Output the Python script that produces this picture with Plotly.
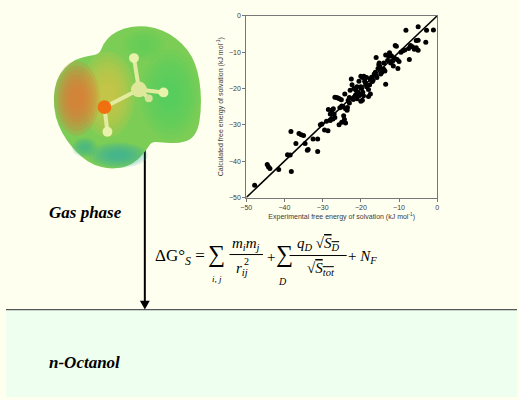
import plotly.graph_objects as go

W, H = 519, 400

# experimental vs calculated free energy of solvation (kJ/mol)
exp_dg = [-47.8, -44.5, -44.2, -43.8, -41.5, -39.2, -38.5, -38.3, -38.2, -37.0,
          -36.2, -35.6, -35.0, -34.6, -34.0, -33.8, -32.5, -31.3, -31.3, -30.6,
          -30.2, -29.5, -28.6, -29.0, -28.0, -27.6, -27.2, -27.0, -26.8, -26.4,
          -26.0, -25.6, -25.1, -27.3, -26.8, -25.7, -25.0, -24.5, -24.3, -24.0,
          -25.5, -25.0, -24.6, -24.0, -23.6, -23.5, -23.3, -23.0, -24.2, -22.5,
          -22.3, -22.0, -21.7, -21.4, -21.0, -20.8, -20.5, -20.3, -20.0, -19.8,
          -19.5, -19.3, -20.0, -19.6, -20.0, -19.6, -19.2, -18.8, -18.5, -20.5,
          -21.0, -21.3, -18.0, -17.7, -17.5, -17.2, -17.0, -16.8, -18.0, -17.5,
          -16.5, -16.2, -16.0, -15.8, -15.5, -15.3, -15.0, -16.0, -15.2, -14.8,
          -14.5, -14.0, -13.7, -13.5, -13.0, -12.7, -12.5, -12.0, -11.7, -11.5,
          -12.2, -11.2, -11.0, -10.7, -10.5, -10.3, -10.0, -9.5, -9.0, -8.5,
          -8.2, -7.5, -7.0, -7.3, -6.5, -6.0, -5.5, -5.0, -5.5, -5.0,
          -5.0, -3.0, -2.8, -1.0, -13.5, -14.0, -18.5, -19.0, -22.8, -23.0,
          -21.8, -28.0, -28.5]
calc_dg = [-46.6, -40.9, -41.5, -42.0, -42.3, -38.2, -38.3, -31.8, -42.8, -35.1,
           -32.4, -32.7, -32.9, -35.1, -37.0, -36.8, -33.9, -33.9, -37.3, -30.0,
           -29.8, -31.4, -31.6, -29.0, -28.8, -26.0, -25.6, -27.0, -22.4, -22.5,
           -22.6, -22.8, -23.1, -28.4, -28.0, -30.0, -29.3, -27.5, -28.5, -29.5,
           -25.3, -24.8, -25.1, -25.6, -26.0, -25.2, -23.2, -22.5, -21.5, -17.4,
           -19.0, -23.0, -22.4, -21.8, -22.8, -21.0, -22.0, -21.5, -19.5, -20.0,
           -21.0, -22.0, -23.5, -23.2, -16.6, -17.0, -16.6, -18.5, -19.5, -18.0,
           -19.5, -20.5, -20.3, -19.0, -17.5, -16.9, -18.1, -17.7, -22.2, -21.5,
           -16.0, -15.5, -16.5, -17.0, -14.5, -13.5, -14.0, -11.5, -13.0, -16.0,
           -15.5, -14.7, -15.2, -18.8, -12.3, -11.2, -10.2, -11.0, -12.5, -13.8,
           -13.0, -11.6, -8.2, -8.4, -12.0, -14.5, -12.6, -10.0, -9.6, -9.4,
           -4.0, -9.0, -8.2, -12.0, -8.5, -9.2, -8.8, -9.5, -6.8, -6.7,
           -3.0, -7.3, -4.0, -3.9, -10.8, -13.0, -17.0, -18.0, -20.5, -24.0,
           -20.0, -27.0, -25.8]
ideal = [-50, 0]
tick_vals = [-50, -40, -30, -20, -10, 0]


def px(x):
    return x / W


def py(y):
    return 1 - y / H


def ellipse(cx, cy, rx, ry, color, opacity=1.0):
    return dict(type="circle", xref="paper", yref="paper",
                x0=px(cx - rx), x1=px(cx + rx), y0=py(cy + ry), y1=py(cy - ry),
                fillcolor=color, opacity=opacity, line=dict(width=0),
                layer="above")


def circle(cx, cy, r, color, opacity=1.0):
    return ellipse(cx, cy, r, r, color, opacity)


def seg(x0, y0, x1, y1, color="black", width=1.5):
    return dict(type="line", xref="paper", yref="paper",
                x0=px(x0), y0=py(y0), x1=px(x1), y1=py(y1),
                line=dict(color=color, width=width))


def smooth_path(pts):
    # closed curve through the points (quadratic midpoints)
    n = len(pts)
    mids = [((pts[i][0] + pts[(i + 1) % n][0]) / 2, (pts[i][1] + pts[(i + 1) % n][1]) / 2)
            for i in range(n)]
    d = f"M {px(mids[-1][0])},{py(mids[-1][1])}"
    for i in range(n):
        d += f" Q {px(pts[i][0])},{py(pts[i][1])} {px(mids[i][0])},{py(mids[i][1])}"
    return d + " Z"


fig = go.Figure()
fig.add_trace(go.Scatter(x=exp_dg, y=calc_dg, mode="markers",
                         marker=dict(color="black", size=5), showlegend=False))
fig.add_trace(go.Scatter(x=ideal, y=ideal, mode="lines",
                         line=dict(color="black", width=1.6), showlegend=False))

axis_font = dict(family="Liberation Sans, Arial", size=7, color="#3a3a3a")
fig.update_layout(
    width=W, height=H,
    margin=dict(l=0, r=0, t=0, b=0),
    paper_bgcolor="#fffff0",
    plot_bgcolor="rgba(0,0,0,0)",
    xaxis=dict(domain=[px(244), px(438)], range=[-50, 0], tickvals=tick_vals,
               showgrid=False, zeroline=False, showline=True, mirror=True,
               linecolor="#777", linewidth=1, ticks="outside", ticklen=3,
               tickcolor="#777", tickfont=axis_font, anchor="y",
               title=dict(text="Experimental free energy of solvation (kJ mol<sup>-1</sup>)",
                          font=axis_font, standoff=4)),
    yaxis=dict(domain=[py(197), py(12)], range=[-50, 0], tickvals=tick_vals,
               showgrid=False, zeroline=False, showline=True, mirror=True,
               linecolor="#777", linewidth=1, ticks="outside", ticklen=3,
               tickcolor="#777", tickfont=axis_font, anchor="x",
               title=dict(text="Calculated free energy of solvation (kJ mol<sup>-1</sup>)",
                          font=axis_font, standoff=4)),
)

shapes = []
# lower phase background and interface
shapes.append(dict(type="rect", xref="paper", yref="paper", x0=0, x1=1,
                   y0=0, y1=py(311), fillcolor="#eefff0", line=dict(width=0),
                   layer="below"))
shapes.append(seg(0, 311, W, 311, color="#555", width=1.2))
# arrow
shapes.append(seg(141, 142, 141, 303, width=2))
shapes.append(dict(type="path", xref="paper", yref="paper",
                   path=f"M {px(136)},{py(302)} L {px(146)},{py(302)} L {px(141)},{py(311)} Z",
                   fillcolor="black", line=dict(width=0)))

# electrostatic potential surface of methanol
outline = [(95, 51), (99, 40), (107, 31), (119, 25), (135, 22), (151, 24), (166, 30),
           (179, 40), (189, 53), (195, 69), (198, 88), (198, 110), (195, 128),
           (188, 138), (175, 142), (158, 141), (148, 140), (143, 148), (135, 158),
           (122, 166), (105, 168), (89, 164), (77, 156), (67, 146), (57, 132),
           (50, 115), (48, 95), (51, 78), (59, 65), (71, 56), (84, 53)]
shapes.append(dict(type="path", xref="paper", yref="paper", path=smooth_path(outline),
                   fillcolor="#7ccd56", line=dict(width=0), layer="above"))
# soft colour regions: many faint nested ellipses give a blurred falloff
regions = [
    (166, 92, 30, 46, "#46d066", 0.14),
    (140, 42, 22, 16, "#5fcf5a", 0.14),
    (114, 154, 30, 13, "#34ae9f", 0.16),
    (80, 146, 13, 10, "#3aae94", 0.14),
    (103, 92, 28, 44, "#dcc446", 0.19),
    (72, 96, 23, 38, "#e27a36", 0.24),
]
for cx, cy, rx, ry, c, op in regions:
    for k in range(7):
        s = 1 - k * 0.12
        shapes.append(ellipse(cx, cy, rx * s, ry * s, c, op))

# ball-and-stick methanol
for x0, y0, x1, y1 in [(100, 105, 135, 87), (100, 105, 103, 130), (135, 87, 130, 55),
                       (135, 87, 160, 90), (135, 87, 145, 96)]:
    shapes.append(seg(x0, y0, x1, y1, color="#e3eba0", width=4))
shapes.append(circle(135, 87, 8, "#dfe89a"))
shapes.append(circle(130, 55, 5, "#e8f2aa"))
shapes.append(circle(160, 90, 5, "#e8f2aa"))
shapes.append(circle(145, 96, 4, "#d6e298"))
shapes.append(circle(103, 130, 5, "#e8f2aa"))
shapes.append(circle(100, 105, 7, "#f07010"))

# fraction bars in the equation
shapes.append(seg(227, 255, 261, 255, width=1))
shapes.append(seg(288, 256, 346, 256, width=1))
fig.update_layout(shapes=shapes)

serif = "Liberation Serif, Times New Roman, serif"


def txt(x, y, s, size=15, xanchor="left"):
    fig.add_annotation(xref="paper", yref="paper", x=px(x), y=py(y), text=s,
                       showarrow=False, xanchor=xanchor, yanchor="middle",
                       font=dict(family=serif, size=size, color="black"))


txt(42, 212, "<b><i>Gas phase</i></b>", size=17)
txt(42, 365, "<b><i>n-Octanol</i></b>", size=17)

# ΔG°S = Σ mi mj / rij² + Σ qD√SD / √Stot + NF
txt(149, 257, "ΔG°<sub><i>S</i></sub> =", size=17)
txt(203, 255, "∑", size=24)
txt(207, 280, "<i>i, j</i>", size=9)
txt(244, 244, "<i>m<sub>i</sub>m<sub>j</sub></i>", size=15, xanchor="center")
txt(232, 270, "<i>r</i><sub><i>ij</i></sub>", size=15)
txt(240, 262, "2", size=10)
txt(263, 257, "+", size=15)
txt(272, 255, "∑", size=24)
txt(281, 282, "<i>D</i>", size=10, xanchor="center")
txt(317, 244, "<i>q<sub>D</sub></i> √<span style='text-decoration:overline'><i>S<sub>D</sub></i></span>",
    size=15, xanchor="center")
txt(320, 270, "√<span style='text-decoration:overline'><i>S<sub>tot</sub></i></span>",
    size=15, xanchor="center")
txt(345, 257, "+ <i>N<sub>F</sub></i>", size=15)

fig.write_html("out.html", config={"displayModeBar": False},
               post_script="document.body.style.margin='0';"
                           "document.body.style.overflow='hidden';")
